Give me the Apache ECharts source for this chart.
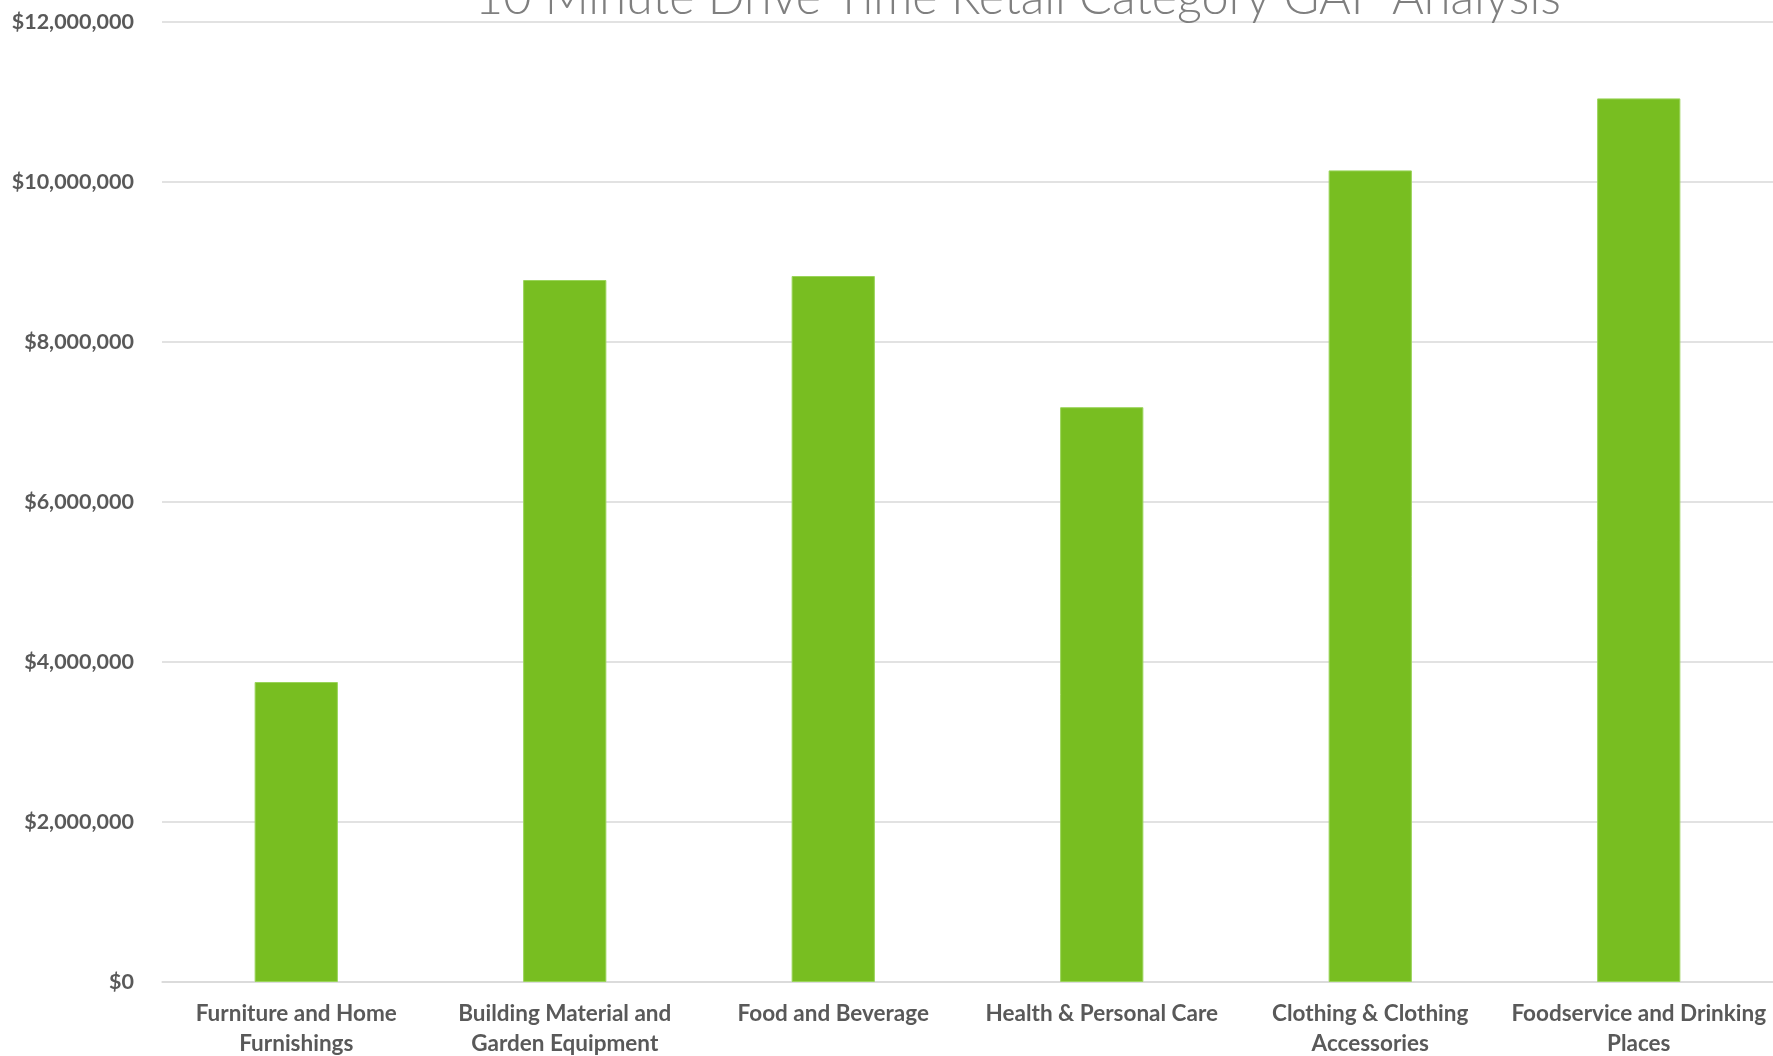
<!DOCTYPE html>
<html>
<head>
<meta charset="utf-8">
<script src="https://cdn.jsdelivr.net/npm/echarts@6/dist/echarts.min.js"></script>
<style>html,body{margin:0;padding:0;background:#fff}#c{width:1773px;height:1056px}</style>
</head>
<body>
<div id="c"></div>
<script>
const titleText = '10 Minute Drive Time Retail Category GAP Analysis';
const categories = ['Furniture and Home\nFurnishings', 'Building Material and\nGarden Equipment', 'Food and Beverage', 'Health & Personal Care', 'Clothing & Clothing\nAccessories', 'Foodservice and Drinking\nPlaces'];
const gapValues = [3750000, 8775000, 8825000, 7185000, 10145000, 11045000];
const yMin = 0, yMax = 12000000, yStep = 2000000;

const chart = echarts.init(document.getElementById('c'));
const fmt = v => '$' + Math.round(v).toString().replace(/\B(?=(\d{3})+(?!\d))/g, ',');
chart.setOption({
  animation: false,
  backgroundColor: '#fff',
  title: {
    text: titleText,
    left: 1013, top: -31, textAlign: 'center',
    textStyle: { fontFamily: 'Lato', fontWeight: 300, fontSize: 48.6, color: '#7f7f7f' }
  },
  grid: { left: 162, right: 0, top: 22, bottom: 74, containLabel: false, outerBoundsMode: 'none' },
  xAxis: {
    type: 'category', data: categories,
    axisLine: { lineStyle: { color: '#d9d9d9', width: 1.5 } },
    axisTick: { show: false },
    axisLabel: { interval: 0, margin: 17, lineHeight: 30, fontFamily: 'Lato', fontWeight: 'bold', fontSize: 22.5, color: '#595959' }
  },
  yAxis: {
    type: 'value', min: yMin, max: yMax, interval: yStep,
    axisLine: { show: false }, axisTick: { show: false },
    splitLine: { lineStyle: { color: '#d9d9d9', width: 1.5 } },
    axisLabel: { formatter: fmt, margin: 28, fontFamily: 'Lato', fontWeight: 'bold', fontSize: 21.5, color: '#595959' }
  },
  series: [{
    type: 'bar', data: gapValues, barWidth: '31%',
    itemStyle: { color: '#78be21', borderColor: '#9ad45a', borderWidth: 1 }
  }]
});
</script>
</body>
</html>
